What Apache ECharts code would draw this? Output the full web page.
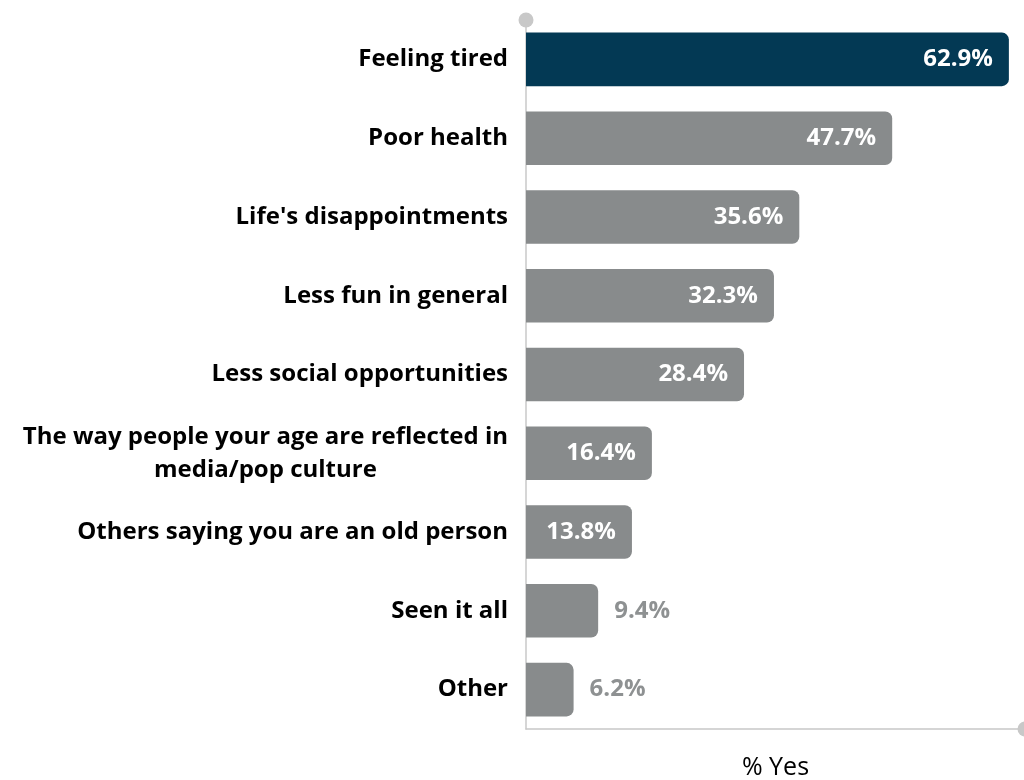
<!DOCTYPE html>
<html>
<head>
<meta charset="utf-8">
<script src="https://cdn.jsdelivr.net/npm/echarts@6/dist/echarts.min.js"></script>
<style>
  html, body { margin: 0; padding: 0; background: #ffffff; }
  #chart { width: 1024px; height: 780px; }
</style>
</head>
<body>
<div id="chart"></div>
<script>
// Reasons given, top to bottom
const categories = [
  'Feeling tired',
  'Poor health',
  "Life's disappointments",
  'Less fun in general',
  'Less social opportunities',
  'The way people your age are reflected in\nmedia/pop culture',
  'Others saying you are an old person',
  'Seen it all',
  'Other'
];
// Share answering yes, in percent
const values = [62.9, 47.7, 35.6, 32.3, 28.4, 16.4, 13.8, 9.4, 6.2];
const axisName = '% Yes';

const DARK = '#033954';
const GRAY = '#888b8c';
const FONT = '"Open Sans", sans-serif';
const LABEL_SIZE = 24;

// Width of the widest line of the wrapped category, so its lines can be centred on each other
const ctx = document.createElement('canvas').getContext('2d');
ctx.font = 'bold ' + LABEL_SIZE + 'px ' + FONT;
let wrapWidth = 0;
categories.forEach(c => {
  if (c.indexOf('\n') >= 0) {
    c.split('\n').forEach(l => { wrapWidth = Math.max(wrapWidth, ctx.measureText(l).width); });
  }
});

const OUTSIDE_BELOW = 12; // smaller values get their label beside the bar

const seriesData = values.map((v, i) => {
  const inside = v >= OUTSIDE_BELOW;
  return {
    value: v,
    itemStyle: { color: i === 0 ? DARK : GRAY },
    label: {
      position: inside ? 'insideRight' : 'right',
      color: inside ? '#ffffff' : '#8e9192'
    }
  };
});

const chart = echarts.init(document.getElementById('chart'));
chart.setOption({
  animation: false,
  grid: {
    left: 526, right: -1, top: 20, bottom: 51,
    containLabel: false,
    outerBoundsMode: 'none'
  },
  xAxis: {
    type: 'value',
    min: 0,
    max: 65,
    name: axisName,
    nameLocation: 'middle',
    nameGap: 26,
    nameTextStyle: { fontFamily: FONT, fontSize: 25, color: '#000000' },
    axisLine: {
      show: true,
      lineStyle: { color: '#c8c8c8', width: 1.5 },
      symbol: ['none', 'circle'],
      symbolSize: [15, 15]
    },
    axisTick: { show: false },
    axisLabel: { show: false },
    splitLine: { show: false }
  },
  yAxis: {
    type: 'category',
    data: categories,
    inverse: true,
    axisLine: {
      show: true,
      lineStyle: { color: '#c8c8c8', width: 1.5 },
      symbol: ['none', 'circle'],
      symbolSize: [15, 15]
    },
    axisTick: { show: false },
    axisLabel: {
      margin: 18,
      fontFamily: FONT,
      fontSize: LABEL_SIZE,
      fontWeight: 'bold',
      color: '#000000',
      formatter: function (val) {
        if (val.indexOf('\n') < 0) return val;
        return val.split('\n').map(l => '{w|' + l + '}').join('\n');
      },
      rich: {
        w: {
          width: wrapWidth,
          align: 'center',
          fontFamily: FONT,
          fontSize: LABEL_SIZE,
          fontWeight: 'bold',
          color: '#000000',
          lineHeight: 33
        }
      }
    }
  },
  series: [{
    type: 'bar',
    data: seriesData,
    barCategoryGap: '32%',
    itemStyle: { borderRadius: [0, 7, 7, 0] },
    label: {
      show: true,
      distance: 16,
      fontFamily: FONT,
      fontSize: 24,
      fontWeight: 'bold',
      formatter: p => p.value.toFixed(1) + '%'
    }
  }]
});
</script>
</body>
</html>
